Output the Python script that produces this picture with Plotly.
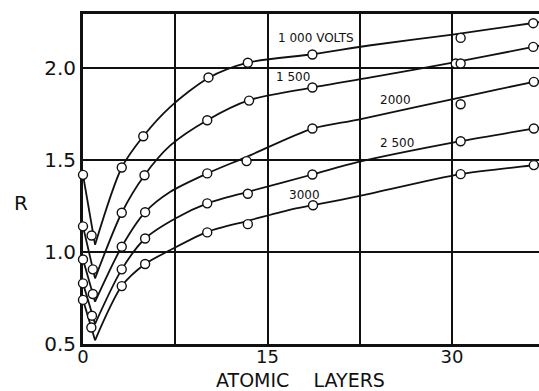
import plotly.graph_objects as go

# ---- data ----
voltages = ["1000", "1500", "2000", "2500", "3000"]
curve_labels = ["1 000 VOLTS", "1 500", "2000", "2 500", "3000"]

# measured points
pts_x_1000 = [0, 0.7, 3.15, 4.9, 10.2, 13.4, 18.65, 30.7, 36.6]
pts_y_1000 = [1.42, 1.09, 1.46, 1.63, 1.95, 2.03, 2.075, 2.165, 2.245]
pts_x_1500 = [0, 0.8, 3.15, 5.0, 10.1, 13.5, 18.65, 30.3, 30.7, 36.6]
pts_y_1500 = [1.14, 0.906, 1.214, 1.418, 1.717, 1.824, 1.895, 2.026, 2.026, 2.116]
pts_x_2000 = [0, 0.8, 3.15, 5.05, 10.1, 13.3, 18.65, 30.7, 36.65]
pts_y_2000 = [0.96, 0.772, 1.029, 1.217, 1.428, 1.495, 1.672, 1.804, 1.926]
pts_x_2500 = [0, 0.73, 3.15, 5.05, 10.1, 13.4, 18.65, 30.7, 36.65]
pts_y_2500 = [0.83, 0.654, 0.906, 1.074, 1.265, 1.317, 1.422, 1.603, 1.672]
pts_x_3000 = [0, 0.68, 3.15, 5.05, 10.1, 13.4, 18.7, 30.7, 36.65]
pts_y_3000 = [0.74, 0.59, 0.815, 0.935, 1.107, 1.152, 1.255, 1.424, 1.473]

# drawn curves (first segment straight down to the minimum, then smooth rise)
cur_x_1000 = [0, 0.98, 3.15, 4.9, 7.1, 10.2, 13.4, 18.65, 23.4, 30.05, 36.6, 37.2]
cur_y_1000 = [1.42, 1.04, 1.46, 1.63, 1.79, 1.947, 2.03, 2.076, 2.125, 2.183, 2.246, 2.252]
cur_x_1500 = [0, 0.98, 3.15, 5.0, 7.1, 10.1, 13.5, 18.65, 23.4, 30.05, 36.6, 37.2]
cur_y_1500 = [1.14, 0.857, 1.214, 1.418, 1.58, 1.717, 1.826, 1.895, 1.95, 2.03, 2.116, 2.124]
cur_x_2000 = [0, 0.98, 3.15, 5.05, 7.1, 10.1, 13.3, 18.65, 22.4, 31.5, 36.65, 37.2]
cur_y_2000 = [0.96, 0.73, 1.029, 1.217, 1.328, 1.428, 1.518, 1.672, 1.721, 1.853, 1.926, 1.933]
cur_x_2500 = [0, 0.98, 3.15, 5.05, 7.5, 10.1, 13.4, 18.65, 22.4, 30.7, 36.65, 37.2]
cur_y_2500 = [0.83, 0.61, 0.906, 1.074, 1.183, 1.265, 1.328, 1.422, 1.49, 1.603, 1.672, 1.678]
cur_x_3000 = [0, 0.98, 3.15, 5.05, 7.1, 10.1, 13.4, 16.8, 18.7, 22.4, 30.7, 36.65, 37.2]
cur_y_3000 = [0.74, 0.52, 0.815, 0.935, 1.011, 1.11, 1.17, 1.23, 1.255, 1.304, 1.424, 1.473, 1.48]

# label anchor positions (data units)
label_x = [18.94, 17.07, 25.37, 25.5, 17.97]
label_y = [2.163, 1.951, 1.826, 1.592, 1.31]

x_tickvals = [0, 7.5, 15, 22.5, 30]
x_ticktext = ["0", "", "15", "", "30"]
y_tickvals = [0.5, 1.0, 1.5, 2.0]
y_ticktext = ["0.5", "1.0", "1.5", "2.0"]

pts = {
    "1000": (pts_x_1000, pts_y_1000), "1500": (pts_x_1500, pts_y_1500),
    "2000": (pts_x_2000, pts_y_2000), "2500": (pts_x_2500, pts_y_2500),
    "3000": (pts_x_3000, pts_y_3000),
}
curves = {
    "1000": (cur_x_1000, cur_y_1000), "1500": (cur_x_1500, cur_y_1500),
    "2000": (cur_x_2000, cur_y_2000), "2500": (cur_x_2500, cur_y_2500),
    "3000": (cur_x_3000, cur_y_3000),
}

INK = "#111111"
FONT = "DejaVu Sans"

fig = go.Figure()
for v in voltages:
    cx, cy = curves[v]
    # straight drop to the minimum
    fig.add_trace(go.Scatter(x=cx[:2], y=cy[:2], mode="lines",
                             line=dict(color=INK, width=1.8), showlegend=False,
                             hoverinfo="skip"))
    # smooth rise
    fig.add_trace(go.Scatter(x=cx[1:], y=cy[1:], mode="lines",
                             line=dict(color=INK, width=1.8, shape="spline", smoothing=0.8),
                             showlegend=False, hoverinfo="skip"))
for v in voltages:
    px, py = pts[v]
    fig.add_trace(go.Scatter(x=px, y=py, mode="markers", cliponaxis=False,
                             marker=dict(symbol="circle", size=9, color="white",
                                         line=dict(color=INK, width=1.4)),
                             showlegend=False, name=v + " V"))

for txt, lx, ly in zip(curve_labels, label_x, label_y):
    fig.add_annotation(x=lx, y=ly, xref="x", yref="y", text=txt, showarrow=False,
                       font=dict(family=FONT, size=12, color=INK),
                       xanchor="center", yanchor="middle")

fig.add_annotation(x=-0.135, y=0.426, xref="paper", yref="paper", text="R",
                   showarrow=False, font=dict(family=FONT, size=20, color=INK),
                   xanchor="center", yanchor="middle")
fig.add_annotation(x=0.476, y=-0.108, xref="paper", yref="paper",
                   text="ATOMIC\u00a0\u00a0\u00a0\u00a0LAYERS",
                   showarrow=False, font=dict(family=FONT, size=19, color=INK),
                   xanchor="center", yanchor="middle")

fig.update_xaxes(range=[0, 37.07], tickvals=x_tickvals, ticktext=x_ticktext,
                 showgrid=True, gridcolor=INK, gridwidth=1.5, zeroline=False,
                 showline=True, linecolor=INK, linewidth=2.5, mirror=True,
                 ticks="", layer="below traces", automargin=False,
                 ticklabelstandoff=-5,
                 tickfont=dict(family=FONT, size=18, color=INK))
fig.update_yaxes(range=[0.5, 2.295], tickvals=y_tickvals, ticktext=y_ticktext,
                 showgrid=True, gridcolor=INK, gridwidth=1.5, zeroline=False,
                 showline=True, linecolor=INK, linewidth=3, mirror=False,
                 ticks="", layer="below traces", automargin=False,
                 tickfont=dict(family=FONT, size=20, color=INK))

fig.update_layout(width=539, height=391, margin=dict(l=83, r=0, t=14, b=47),
                  paper_bgcolor="white", plot_bgcolor="white", showlegend=False)

fig.write_html("out.html", config={"displayModeBar": False},
               post_script="document.body.style.margin='0';")
